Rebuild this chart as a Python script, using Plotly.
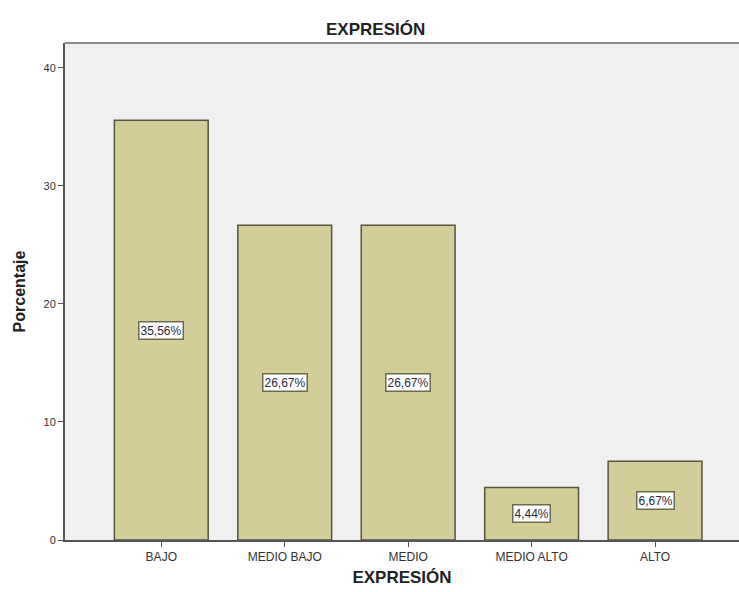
import plotly.graph_objects as go

# Distribución de niveles de expresión (porcentaje de casos)
categorias = ["BAJO", "MEDIO BAJO", "MEDIO", "MEDIO ALTO", "ALTO"]
porcentajes = [35.56, 26.67, 26.67, 4.44, 6.67]
y_ticks = [0, 10, 20, 30, 40]

FONT = "Liberation Sans, Arial, sans-serif"
BAR_FILL = "#d3ce99"
BAR_EDGE = "#55553f"

fig = go.Figure(
    go.Bar(
        x=categorias,
        y=porcentajes,
        marker=dict(color=BAR_FILL, line=dict(color=BAR_EDGE, width=1.5)),
        hoverinfo="skip",
    )
)

# Etiquetas de valor en recuadro blanco, centradas a media altura de cada barra
for cat, val in zip(categorias, porcentajes):
    fig.add_annotation(
        x=cat,
        y=val / 2,
        text=f"{val:.2f}%".replace(".", ","),
        showarrow=False,
        font=dict(family=FONT, size=12, color="#2a2a3a"),
        bgcolor="white",
        bordercolor="#6a6a50",
        borderwidth=1.5,
        borderpad=1,
    )

# Título superior
fig.add_annotation(
    xref="paper", yref="paper",
    x=0.461, y=1.0, yanchor="middle", yshift=14,
    text="<b>EXPRESIÓN</b>",
    showarrow=False,
    font=dict(family=FONT, size=17, color="#222"),
)

# Borde superior del área de trazado
fig.add_shape(
    type="line", xref="paper", yref="paper",
    x0=0, x1=1, y0=1, y1=1,
    line=dict(color="#8a8a8a", width=2),
)

fig.update_layout(
    width=739,
    height=592,
    margin=dict(l=65, r=0, t=43, b=52),
    paper_bgcolor="white",
    plot_bgcolor="#f0f0f0",
    bargap=0.24,
    showlegend=False,
    font=dict(family=FONT, color="#333"),
    xaxis=dict(
        range=[-0.78, 4.68],
        showgrid=False,
        showline=True,
        linecolor="#555",
        linewidth=1.5,
        ticks="outside",
        ticklen=5,
        tickcolor="#555",
        tickfont=dict(family=FONT, size=12, color="#333"),
        title=dict(
            text="<b>EXPRESIÓN</b>",
            font=dict(family=FONT, size=17, color="#222"),
            standoff=8,
        ),
    ),
    yaxis=dict(
        range=[0, 42.1],
        tickvals=y_ticks,
        showgrid=False,
        zeroline=False,
        showline=True,
        linecolor="#555",
        linewidth=2,
        ticks="outside",
        ticklen=5,
        tickcolor="#555",
        tickfont=dict(family=FONT, size=11, color="#333"),
        title=dict(
            text="<b>Porcentaje</b>",
            font=dict(family=FONT, size=16, color="#222"),
            standoff=14,
        ),
    ),
)

fig.write_html("out.html")
